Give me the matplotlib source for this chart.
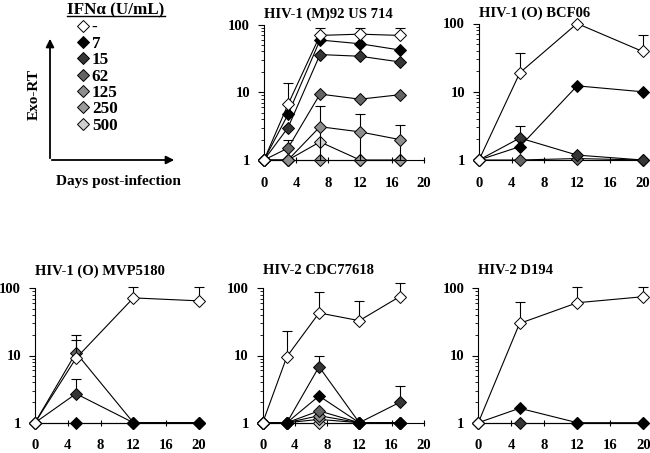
import matplotlib
matplotlib.use("Agg")
import matplotlib.pyplot as plt
import numpy as np
from matplotlib.lines import Line2D
from matplotlib.patches import FancyArrowPatch

plt.rcParams['font.family'] = ['Liberation Serif', 'DejaVu Serif']
plt.rcParams['font.weight'] = 'bold'

# ---------------- data ----------------
doses = ['-', '7', '15', '62', '125', '250', '500']
dose_colors = ['#ffffff', '#000000', '#353535', '#646464', '#8e8e8e', '#9a9a9a', '#cfcfcf']

titles = ['HIV-1 (M)92 US 714', 'HIV-1 (O) BCF06', 'HIV-1 (O) MVP5180',
          'HIV-2 CDC77618', 'HIV-2 D194']

days_m92 = [0, 3, 7, 12, 17]
m92 = {
    '-':   [1, 6.6, 69, 72, 69],
    '7':   [1, 4.7, 59, 52, 42],
    '15':  [1, 3.0, 36, 34, 28],
    '62':  [1, 1.5, 9.4, 7.9, 9.2],
    '125': [1, 1.0, 3.1, 2.6, 2.0],
    '250': [1, 1.0, 1.0, 1.0, 1.0],
    '500': [1, 1.0, 1.85, 1.0, 1.0],
}
m92_hi = {
    '-':   [None, 13.5, 88, 88, 88],
    '62':  [None, 2.0, None, None, None],
    '125': [None, None, 6.3, 4.7, 3.3],
}
m92_lo = {
    '125': [None, None, 1.0, 1.0, 1.0],
}

days_bcf = [0, 5, 12, 20]
bcf = {
    '-':  [1, 19, 100, 39],
    '7':  [1, 1.57, 12.2, 10],
    '15': [1, 2.1, 1.18, 1.0],
    '62': [1, 1.0, 1.05, 1.0],
}
bcf_hi = {
    '-':  [None, 37, None, 68],
    '15': [None, 3.1, None, None],
}

days_mvp = [0, 5, 12, 20]
mvp = {
    '-':  [1, 9.1, 72, 65],
    '7':  [1, 1.0, 1.0, 1.0],
    '15': [1, 2.7, 1.0, 1.0],
    '62': [1, 11, 1.0, 1.0],
}
mvp_hi = {
    '-':  [None, 17, 105, 105],
    '15': [None, 4.4, None, None],
    '62': [None, 20, None, None],
}

days_cdc = [0, 3, 7, 12, 17]
cdc = {
    '-':   [1, 9.6, 43, 33, 75],
    '7':   [1, 1.0, 2.5, 1.0, 1.0],
    '15':  [1, 1.0, 6.8, 1.0, 2.0],
    '62':  [1, 1.0, 1.5, 1.0, 1.0],
    '125': [1, 1.0, 1.27, 1.0, 1.0],
    '250': [1, 1.0, 1.12, 1.0, 1.0],
    '500': [1, 1.0, 1.0, 1.0, 1.0],
}
cdc_hi = {
    '-':  [None, 23, 89, 65, 118],
    '15': [None, None, 10, None, 3.5],
}

days_d194 = [0, 5, 12, 20]
d194 = {
    '-':  [1, 30, 61, 75],
    '7':  [1, 1.64, 1.0, 1.0],
    '15': [1, 1.0, 1.0, 1.0],
}
d194_hi = {
    '-': [None, 63, 105, 106],
}

panels = [
    (titles[0], days_m92, m92, m92_hi, m92_lo),
    (titles[1], days_bcf, bcf, bcf_hi, {}),
    (titles[2], days_mvp, mvp, mvp_hi, {}),
    (titles[3], days_cdc, cdc, cdc_hi, {}),
    (titles[4], days_d194, d194, d194_hi, {}),
]

x_ticks = [0, 4, 8, 12, 16, 20]
y_ticks = [1, 10, 100]
y_ticklabels = ['1', '10', '100']

# ---------------- layout ----------------
W, H = 650, 453
fig = plt.figure(figsize=(6.5, 4.53), dpi=100)

def rect(x0, y_top, x1, y_bot):
    return [x0 / W, 1 - y_bot / H, (x1 - x0) / W, (y_bot - y_top) / H]

rects = [
    rect(264, 24.5, 424, 160),
    rect(479, 23.5, 642.5, 160),
    rect(35, 288.3, 199, 422.7),
    rect(262.7, 288.3, 423.7, 422.7),
    rect(478.3, 288.3, 643.3, 422.7),
]
title_pads = [5, 5, 10, 10, 10]

FS = 10.5
MS = 5.8
for (title, days, series, hi, lo), r, tp in zip(panels, rects, title_pads):
    ax = fig.add_axes(r)
    ax.set_yscale('log')
    ax.set_xlim(0, 20)
    ax.set_ylim(1, 100)
    z = 3
    for dose, col in reversed(list(zip(doses, dose_colors))):
        if dose not in series:
            continue
        vals = series[dose]
        ax.plot(days, vals, '-', color='black', lw=0.8, marker='D',
                markersize=MS, markerfacecolor=col, markeredgecolor='black',
                markeredgewidth=0.7, clip_on=False, zorder=z + 1)
        if dose in hi:
            his = hi[dose]
            los = lo.get(dose, [None] * len(days))
            xs, ys, eu, el = [], [], [], []
            for d, v, h, l in zip(days, vals, his, los):
                if h is None:
                    continue
                xs.append(d); ys.append(v); eu.append(h - v)
                el.append(0 if l is None else v - l)
            ax.errorbar(xs, ys, yerr=[el, eu], fmt='none', ecolor='black',
                        elinewidth=0.8, capsize=3.4, capthick=0.8,
                        clip_on=False, zorder=z)
        z += 2
    for s in ['top', 'right']:
        ax.spines[s].set_visible(False)
    for s in ['left', 'bottom']:
        ax.spines[s].set_linewidth(0.8)
    ax.set_xticks(x_ticks)
    ax.set_xticklabels([str(t) for t in x_ticks])
    ax.set_yticks(y_ticks)
    ax.set_yticklabels(y_ticklabels)
    ax.tick_params(axis='x', direction='inout', length=4, width=0.8,
                   pad=10, labelsize=FS)
    ax.tick_params(axis='y', which='major', direction='out', length=4,
                   width=0.8, pad=6, labelsize=FS)
    ax.tick_params(axis='y', which='minor', direction='out', length=2,
                   width=0.6, labelleft=False)
    ax.set_title(title, loc='left', fontsize=FS, fontweight='bold', pad=tp)

# ---------------- key panel ----------------
def fx(x):
    return x / W

def fy(y):
    return 1 - y / H

for (xa, ya, xb, yb) in [(50, 161, 50, 36), (49, 160, 177, 160)]:
    arr = FancyArrowPatch((fx(xa), fy(ya)), (fx(xb), fy(yb)),
                          transform=fig.transFigure, arrowstyle='-|>',
                          mutation_scale=12, lw=1.3, color='black')
    fig.add_artist(arr)

fig.text(fx(34), fy(95), 'Exo-RT', rotation=90, ha='center', va='center',
         fontsize=FS + 0.5, fontweight='bold')
fig.text(fx(118), fy(182), 'Days post-infection', ha='center', va='center',
         fontsize=FS + 0.5, fontweight='bold')

ttl = fig.text(fx(116), fy(10), 'IFNα (U/mL)', ha='center', va='center',
               fontsize=12.3, fontweight='bold')
fig.canvas.draw()
bb = ttl.get_window_extent().transformed(fig.transFigure.inverted())
fig.add_artist(Line2D([bb.x0, bb.x1], [bb.y0 + 0.004, bb.y0 + 0.004],
                      transform=fig.transFigure, color='black', lw=1.0))

leg_handles = [Line2D([], [], linestyle='none', marker='D', markersize=MS + 0.8,
                      markerfacecolor=c, markeredgecolor='black',
                      markeredgewidth=0.7) for c in dose_colors]
fig.legend(leg_handles, doses, loc='upper left',
           bbox_to_anchor=(fx(77), fy(19.5)), frameon=False,
           handlelength=0.75, handletextpad=0.12, labelspacing=0.02,
           borderpad=0, borderaxespad=0,
           prop={'family': 'Liberation Serif', 'weight': 'bold', 'size': 12.3})

fig.savefig('out.png', dpi=100)
